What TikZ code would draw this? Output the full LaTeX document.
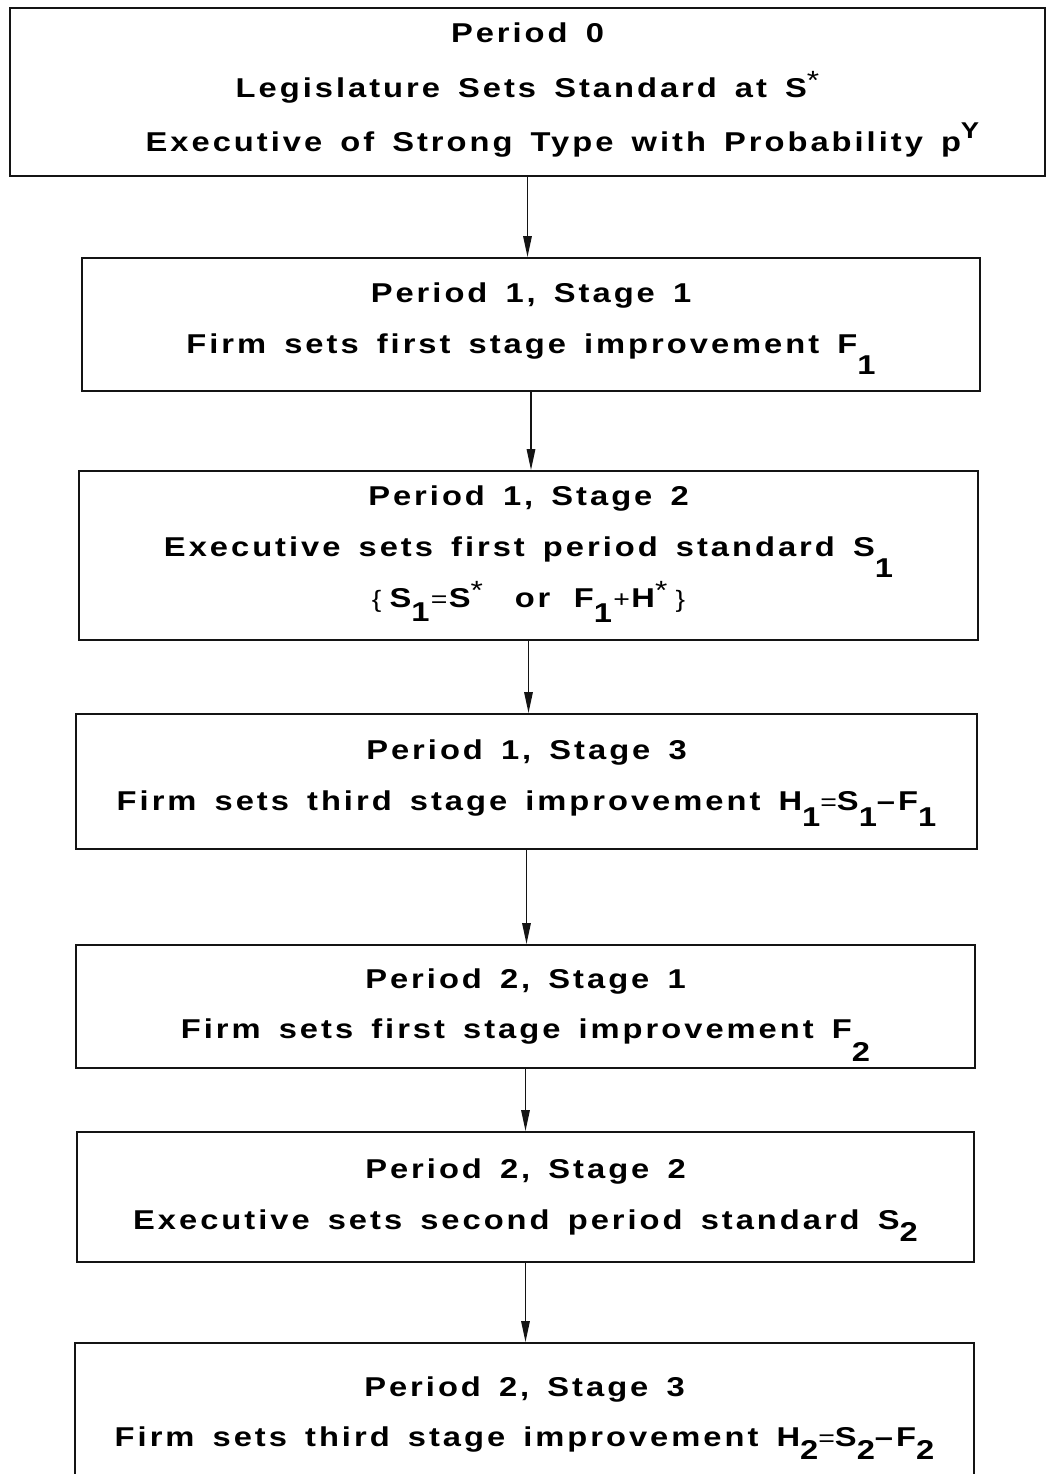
\documentclass[tikz,border=0pt]{standalone}
\usepackage{fontspec}
\setmainfont{Liberation Sans}[LetterSpace=11,FakeStretch=1.2,WordSpace=1.5]
\usetikzlibrary{arrows.meta,positioning}
\definecolor{ink}{HTML}{141414}
% dropped index, full size; optional drop
\newcommand{\lowidx}[2][1.5ex]{\smash{\raisebox{-#1}{#2}}}
\newcommand{\hiidx}[1]{\smash{\raisebox{0.9ex}{\fontsize{13}{13}\selectfont #1}}}
\newcommand{\starmark}{\smash{\raisebox{0.55ex}{\mdseries\fontsize{15}{15}\selectfont *}}}
\newcommand{\opsym}[1]{{\mdseries\fontsize{13.5}{13.5}\selectfont #1}}
\tikzset{
  stage/.style={draw=ink,line width=1.1pt,align=center,inner sep=0pt,
    font=\bfseries\fontsize{15.5}{29}\selectfont},
  flow/.style={ink,line width=0.9pt,-{Triangle[length=4.2mm,width=1.7mm]}},
}

\begin{document}
\begin{tikzpicture}[x=0.02cm,y=0.02cm]
  \useasboundingbox (0,0) rectangle (1046,-1474);
  % period 0 and the six stages
  \node[stage,minimum width=20.7cm,minimum height=3.36cm,text depth=5.5pt,font=\bfseries\fontsize{15.5}{31}\selectfont] (p0) at (527.5,-92)
    {Period 0\\Legislature Sets Standard at S\starmark\\
     \hspace*{1.4cm}Executive of Strong Type with Probability p\hiidx{Y}};
  \node[stage,minimum width=17.96cm,minimum height=2.66cm,text depth=7.5pt] (p1s1) at (531,-324.5)
    {Period 1, Stage 1\\Firm sets first stage improvement F\lowidx{1}};
  \node[stage,minimum width=17.98cm,minimum height=3.38cm,text depth=10.5pt] (p1s2) at (528.5,-555.5)
    {Period 1, Stage 2\\Executive sets first period standard S\lowidx{1}\\
     \opsym{\{}\hspace{0.3em}S\lowidx[1ex]{1}\hspace{0.05em}\opsym{=}\hspace{0.05em}S\starmark\hspace{0.5em} or\hspace{0.2em}
     F\lowidx[1.05ex]{1}\hspace{0.05em}\opsym{+}\hspace{0.05em}H\starmark\hspace{0.3em}\opsym{\}}};
  \node[stage,minimum width=18.02cm,minimum height=2.7cm,text depth=7.5pt] (p1s3) at (526.5,-781.5)
    {Period 1, Stage 3\\Firm sets third stage improvement
     H\lowidx[1.15ex]{1}\opsym{=}S\lowidx[1.15ex]{1}\textendash F\lowidx[1.15ex]{1}};
  \node[stage,minimum width=17.98cm,minimum height=2.46cm] (p2s1) at (525.5,-1006.5)
    {Period 2, Stage 1\\Firm sets first stage improvement F\lowidx[1.6ex]{2}};
  \node[stage,minimum width=17.94cm,minimum height=2.6cm] (p2s2) at (525.5,-1197)
    {Period 2, Stage 2\\Executive sets second period standard S\lowidx[0.8ex]{2}};
  \node[stage,minimum width=17.98cm,minimum height=2.86cm] (p2s3) at (524.5,-1414.5)
    {Period 2, Stage 3\\Firm sets third stage improvement
     H\lowidx[0.85ex]{2}\opsym{=}S\lowidx[0.85ex]{2}\textendash F\lowidx[0.85ex]{2}};
  % arrows between the stages
  \draw[flow] (p0.south) -- (p0.south |- p1s1.north);
  \draw[flow] (p1s1.south) -- (p1s1.south |- p1s2.north);
  \draw[flow] (p1s2.south) -- (p1s2.south |- p1s3.north);
  \draw[flow] (p1s3.south) -- (p1s3.south |- p2s1.north);
  \draw[flow] (p2s1.south) -- (p2s1.south |- p2s2.north);
  \draw[flow] (p2s2.south) -- (p2s2.south |- p2s3.north);
\end{tikzpicture}
\end{document}
